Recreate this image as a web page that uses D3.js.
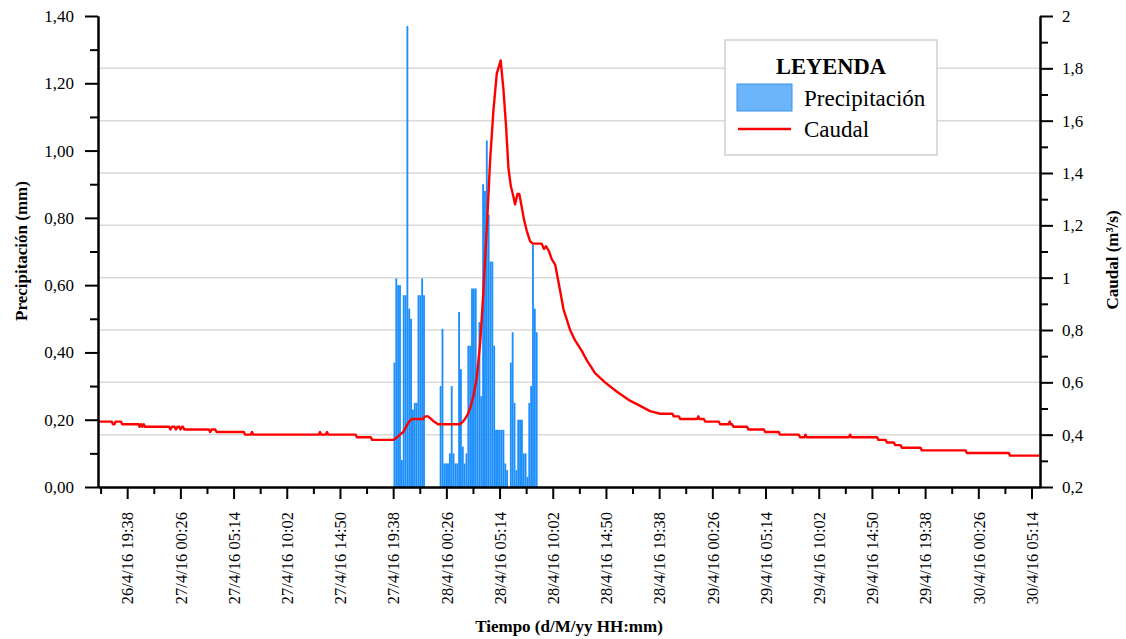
<!DOCTYPE html>
<html><head><meta charset="utf-8">
<script src="https://cdn.jsdelivr.net/npm/d3@7"></script>
<style>
body{margin:0;background:#fff}
</style>
</head><body>
<svg id="c" width="1126" height="639"></svg>
<script>
// ---------- data ----------
const precipStart = "2016-04-27 19:40";
const precipStepMin = 10;
const precipValues = [
  0.37,0.62,0.60,0.60,0.08,0.57,0.57,1.37,0.53,0.50,0.23,0.25,0.25,0.57,0.57,0.62,0.57,
  0,0,0,0,0,0,0,0,
  0.30,0.47,0.07,0.07,0.07,0.10,0.30,0.10,0.07,0.07,0.52,0.35,0.12,0.07,0.10,0.42,0.42,
  0.59,0.59,0.59,0.36,0.49,0.27,0.90,0.88,1.03,0.81,0.67,0.67,0.42,0.17,0.17,0.17,0.17,
  0.17,0.07,0.05,0,0.37,0.46,0.25,0.05,0.20,0.20,0.20,0.10,0.10,0.03,0.25,0.30,0.72,0.53,0.46
];
const caudalTime = [
  "2016-04-26 17:00","2016-04-26 18:15","2016-04-26 18:20","2016-04-26 18:30","2016-04-26 18:35",
  "2016-04-26 19:05","2016-04-26 19:10","2016-04-26 20:40","2016-04-26 20:45","2016-04-26 20:52",
  "2016-04-26 21:00","2016-04-26 21:07","2016-04-26 21:15","2016-04-26 23:25","2016-04-26 23:32",
  "2016-04-26 23:40","2016-04-26 23:55","2016-04-27 00:02","2016-04-27 00:10","2016-04-27 00:20",
  "2016-04-27 00:27","2016-04-27 00:35","2016-04-27 00:40","2016-04-27 00:47","2016-04-27 03:00",
  "2016-04-27 03:07","2016-04-27 03:15","2016-04-27 03:35","2016-04-27 03:42","2016-04-27 06:10",
  "2016-04-27 06:17","2016-04-27 06:47","2016-04-27 06:54","2016-04-27 07:01","2016-04-27 12:55",
  "2016-04-27 13:02","2016-04-27 13:09","2016-04-27 13:33","2016-04-27 13:40","2016-04-27 13:47",
  "2016-04-27 16:15","2016-04-27 16:22","2016-04-27 17:37","2016-04-27 17:44","2016-04-27 19:40",
  "2016-04-27 19:59","2016-04-27 20:15","2016-04-27 20:32","2016-04-27 20:48","2016-04-27 21:04",
  "2016-04-27 21:20","2016-04-27 22:20","2016-04-27 22:31","2016-04-27 22:47","2016-04-27 23:03",
  "2016-04-27 23:19","2016-04-27 23:41","2016-04-28 01:40","2016-04-28 01:56","2016-04-28 02:07",
  "2016-04-28 02:23","2016-04-28 02:34","2016-04-28 02:52","2016-04-28 03:11","2016-04-28 03:29",
  "2016-04-28 03:46","2016-04-28 04:05","2016-04-28 04:23","2016-04-28 04:41","2016-04-28 04:59",
  "2016-04-28 05:20","2016-04-28 05:35","2016-04-28 05:49","2016-04-28 06:02","2016-04-28 06:15",
  "2016-04-28 06:29","2016-04-28 06:38","2016-04-28 06:51","2016-04-28 07:01","2016-04-28 07:14",
  "2016-04-28 07:27","2016-04-28 07:41","2016-04-28 07:59","2016-04-28 08:14","2016-04-28 09:02",
  "2016-04-28 09:15","2016-04-28 09:26","2016-04-28 09:42","2016-04-28 09:57","2016-04-28 10:15",
  "2016-04-28 10:42","2016-04-28 11:00","2016-04-28 11:36","2016-04-28 12:03","2016-04-28 12:39",
  "2016-04-28 13:06","2016-04-28 13:51","2016-04-28 14:45","2016-04-28 15:48","2016-04-28 17:00",
  "2016-04-28 17:55","2016-04-28 18:49","2016-04-28 19:43","2016-04-28 20:50","2016-04-28 20:57",
  "2016-04-28 21:25","2016-04-28 21:32","2016-04-28 23:05","2016-04-28 23:10","2016-04-28 23:15",
  "2016-04-28 23:40","2016-04-28 23:47","2016-04-29 01:01","2016-04-29 01:08","2016-04-29 01:55",
  "2016-04-29 02:00","2016-04-29 02:05","2016-04-29 02:13","2016-04-29 02:20","2016-04-29 03:34",
  "2016-04-29 03:41","2016-04-29 05:05","2016-04-29 05:12","2016-04-29 06:26","2016-04-29 06:33",
  "2016-04-29 08:14","2016-04-29 08:21","2016-04-29 08:45","2016-04-29 08:50","2016-04-29 08:57",
  "2016-04-29 12:45","2016-04-29 12:52","2016-04-29 12:59","2016-04-29 15:18","2016-04-29 15:25",
  "2016-04-29 16:04","2016-04-29 16:11","2016-04-29 16:49","2016-04-29 16:56","2016-04-29 17:25",
  "2016-04-29 17:32","2016-04-29 19:13","2016-04-29 19:20","2016-04-29 23:17","2016-04-29 23:24",
  "2016-04-30 03:11","2016-04-30 03:18","2016-04-30 06:00"
];
const caudalValue = [
  0.45,0.45,0.44,0.44,0.45,
  0.45,0.44,0.44,0.43,0.44,
  0.43,0.44,0.43,0.43,0.42,
  0.43,0.43,0.42,0.43,0.43,
  0.42,0.43,0.43,0.42,0.42,
  0.41,0.42,0.42,0.41,0.41,
  0.40,0.40,0.41,0.40,0.40,
  0.41,0.40,0.40,0.41,0.40,
  0.40,0.39,0.39,0.38,0.38,
  0.39,0.40,0.41,0.43,0.45,
  0.46,0.46,0.47,0.47,0.46,
  0.45,0.44,0.44,0.45,0.46,
  0.48,0.50,0.545,0.62,0.75,
  0.94,1.19,1.45,1.64,1.78,
  1.83,1.72,1.58,1.42,1.35,
  1.31,1.28,1.32,1.32,1.27,
  1.22,1.18,1.14,1.13,1.13,
  1.11,1.12,1.10,1.07,1.05,
  0.95,0.88,0.80,0.76,0.72,
  0.685,0.635,0.60,0.565,0.53,
  0.51,0.49,0.48,0.48,0.47,
  0.47,0.46,0.46,0.47,0.46,
  0.46,0.45,0.45,0.44,0.44,
  0.45,0.44,0.44,0.43,0.43,
  0.42,0.42,0.41,0.41,0.40,
  0.40,0.39,0.39,0.40,0.39,
  0.39,0.40,0.39,0.39,0.38,
  0.38,0.37,0.37,0.36,0.36,
  0.35,0.35,0.34,0.34,0.33,
  0.33,0.32,0.32
];
const xDomain = ["2016-04-26 17:00","2016-04-30 06:00"];
const xTickFirst = "2016-04-26 17:14";
const xTickStepMin = 144;
const leftTicks = [0,0.2,0.4,0.6,0.8,1.0,1.2,1.4];
const leftMinor = [0.1,0.3,0.5,0.7,0.9,1.1,1.3];
const rightTicks = [0.2,0.4,0.6,0.8,1.0,1.2,1.4,1.6,1.8,2.0];
const rightMinor = [0.3,0.5,0.7,0.9,1.1,1.3,1.5,1.7,1.9];
const gridTicks = [0.4,0.6,0.8,1.0,1.2,1.4,1.6,1.8];

// ---------- layout ----------
const FONT = '"Liberation Serif", "Times New Roman", serif';
const L = 98, R = 1040, T = 16, B = 487;
const parse = d3.timeParse("%Y-%m-%d %H:%M");
const loc = d3.formatLocale({decimal:",",thousands:".",grouping:[3],currency:["","€"]});
const fmtL = loc.format(".2f");
const fmtR = loc.format(".1~f");
const fmtX = d3.timeFormat("%-d/%-m/%y %H:%M");

const x = d3.scaleTime().domain(xDomain.map(parse)).range([L, R]);
const yL = d3.scaleLinear().domain([0,1.4]).range([B, T]);
const yR = d3.scaleLinear().domain([0.2,2.0]).range([B, T]);

const svg = d3.select("#c");

// grid
svg.append("g").selectAll("line").data(gridTicks).join("line")
  .attr("x1", L).attr("x2", R).attr("y1", d=>yR(d)).attr("y2", d=>yR(d))
  .attr("stroke", "#d9d9d9").attr("stroke-width", 1.5);

// bars
const t0 = parse(precipStart);
const bars = precipValues.map((v,i)=>({t:d3.timeMinute.offset(t0, i*precipStepMin), v}));
svg.append("g").selectAll("rect").data(bars.filter(d=>d.v>0)).join("rect")
  .attr("x", d=>x(d.t))
  .attr("width", d=>x(d3.timeMinute.offset(d.t, precipStepMin))-x(d.t))
  .attr("y", d=>yL(d.v))
  .attr("height", d=>yL(0)-yL(d.v))
  .attr("fill", "#1e8ffa");

// line
const pts = caudalTime.map((s,i)=>({t:parse(s), v:caudalValue[i]}));
svg.append("path").datum(pts)
  .attr("d", d3.line().x(d=>x(d.t)).y(d=>yR(d.v)))
  .attr("fill","none").attr("stroke","#ff0000").attr("stroke-width",2.4)
  .attr("stroke-linejoin","round");

// axes
function styleAxis(g, fs){
  g.attr("font-family", FONT).attr("font-size", fs || 17);
  g.selectAll("path.domain").attr("stroke","#000").attr("stroke-width",2);
  g.selectAll(".tick line").attr("stroke","#000").attr("stroke-width",2);
  g.selectAll(".tick text").attr("fill","#000");
}
svg.append("g").attr("transform",`translate(${L},0)`)
  .call(d3.axisLeft(yL).tickValues(leftMinor).tickSize(8).tickSizeOuter(0).tickFormat(""))
  .call(styleAxis);
svg.append("g").attr("transform",`translate(${L},0)`)
  .call(d3.axisLeft(yL).tickValues(leftTicks).tickSize(13).tickPadding(11).tickSizeOuter(0).tickFormat(fmtL))
  .call(styleAxis);
svg.append("g").attr("transform",`translate(${R},0)`)
  .call(d3.axisRight(yR).tickValues(rightMinor).tickSize(8).tickSizeOuter(0).tickFormat(""))
  .call(styleAxis);
svg.append("g").attr("transform",`translate(${R},0)`)
  .call(d3.axisRight(yR).tickValues(rightTicks).tickSize(13).tickPadding(9).tickSizeOuter(0).tickFormat(fmtR))
  .call(styleAxis);
const tf = parse(xTickFirst), tEnd = parse(xDomain[1]);
const allX = [];
for(let k=0;;k++){const t=d3.timeMinute.offset(tf,k*xTickStepMin); if(t>tEnd)break; allX.push({t,k});}
const minorX = allX.filter(d=>d.k%2===0).map(d=>d.t);
const majorX = allX.filter(d=>d.k%2===1).map(d=>d.t);
svg.append("g").attr("transform",`translate(0,${B})`)
  .call(d3.axisBottom(x).tickValues(minorX).tickSize(7).tickSizeOuter(0).tickFormat(""))
  .call(styleAxis);
const gx = svg.append("g").attr("transform",`translate(0,${B})`)
  .call(d3.axisBottom(x).tickValues(majorX).tickSize(12).tickSizeOuter(0).tickFormat(fmtX))
  .call(g=>styleAxis(g,16.5));
gx.selectAll(".tick text")
  .attr("transform","rotate(-90)")
  .attr("text-anchor","end")
  .attr("x",-25).attr("y",0).attr("dy","0.35em");

// titles
svg.append("text").attr("transform","translate(27,251) rotate(-90)")
  .attr("text-anchor","middle").attr("font-weight","bold").attr("font-size",17)
  .text("Precipitación (mm)");
svg.append("text").attr("transform","translate(1118,260) rotate(-90)")
  .attr("text-anchor","middle").attr("font-weight","bold").attr("font-size",17)
  .text("Caudal (m³/s)");
svg.append("text").attr("x",569).attr("y",632)
  .attr("text-anchor","middle").attr("font-weight","bold").attr("font-size",17)
  .text("Tiempo (d/M/yy HH:mm)");

// legend
const lg = svg.append("g");
lg.append("rect").attr("x",725).attr("y",40).attr("width",212).attr("height",115)
  .attr("fill","#fff").attr("stroke","#cfcfcf").attr("stroke-width",1.5);
lg.append("text").attr("x",831).attr("y",74).attr("text-anchor","middle")
  .attr("font-weight","bold").attr("font-size",22.5).text("LEYENDA");
lg.append("rect").attr("x",737).attr("y",84).attr("width",55).attr("height",27)
  .attr("fill","#6cb4fb").attr("stroke","#3b92ea").attr("stroke-width",1);
lg.append("text").attr("x",804).attr("y",106).attr("font-size",23).text("Precipitación");
lg.append("line").attr("x1",738).attr("x2",791).attr("y1",129).attr("y2",129)
  .attr("stroke","#ff0000").attr("stroke-width",2.4);
lg.append("text").attr("x",804).attr("y",137).attr("font-size",23).text("Caudal");

svg.selectAll("text").style("font-family", FONT).style("fill", "#000");
</script>
</body></html>
